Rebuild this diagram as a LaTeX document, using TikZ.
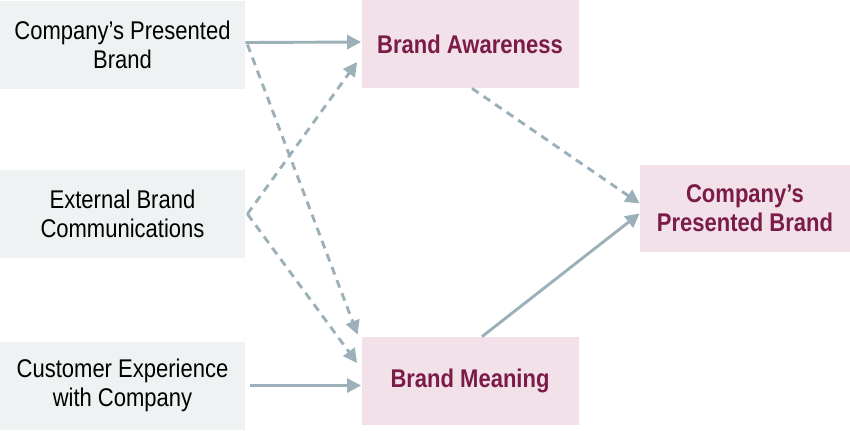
\documentclass[tikz,border=0pt]{standalone}
\usepackage{fontspec}
\setmainfont{Liberation Sans}[FakeStretch=0.86]
\usetikzlibrary{arrows.meta}
\definecolor{srcgray}{HTML}{EEF2F3}
\definecolor{tgtpink}{HTML}{F2E1E8}
\definecolor{maroon}{HTML}{7B1B48}
\definecolor{arrowgray}{HTML}{9BB0B8}
\begin{document}
\begin{tikzpicture}[
src/.style={fill=srcgray,minimum width=122.5pt,minimum height=44pt,inner sep=0pt,align=center,font=\fontsize{12.8}{14.5}\selectfont},
tgt/.style={fill=tgtpink,minimum width=108.5pt,minimum height=44pt,inner sep=0pt,align=center,text=maroon,font=\fontsize{12.8}{14.5}\selectfont\bfseries},
link/.style={draw=arrowgray,line width=1.45pt,-{Triangle[length=7pt,width=7pt]}},
dlink/.style={link,dash pattern=on 4pt off 3pt}]
\useasboundingbox (0,0) rectangle (425pt,-215pt);

\node[src] (brand) at (61.25pt,-22.25pt) {Company’s Presented\\Brand};
\node[src] (ext) [below of=brand,node distance=84.75pt] {External Brand\\Communications};
\node[src] (cust) [below of=ext,node distance=85.75pt] {Customer Experience\\with Company};

\node[tgt] (aware) [right of=brand,node distance=173.75pt,yshift=0.25pt] {Brand Awareness};
\node[tgt] (meaning) [below of=aware,node distance=168.5pt] {Brand Meaning};
\node[tgt,minimum width=105pt,minimum height=43.5pt] (out) [right of=ext,node distance=311.25pt,yshift=2.75pt] {Company’s\\Presented Brand};

\draw[link] ([yshift=1pt]brand.east) -- ([yshift=1pt]aware.west);
\draw[dlink] ([xshift=1pt]brand.east) -- ([xshift=-1.75pt,yshift=1pt]meaning.north west);
\draw[dlink] ([xshift=1pt]ext.east) -- ([xshift=-2pt,yshift=-9pt]aware.west);
\draw[dlink] ([xshift=1pt]ext.east) -- ([xshift=-2pt,yshift=9pt]meaning.west);
\draw[link] ([xshift=2.5pt]cust.east) -- (cust.east -| meaning.west);

\draw[dlink] ([xshift=1pt]aware.south) -- ([yshift=2.5pt]out.west);
\draw[link] ([xshift=6pt]meaning.north) -- ([yshift=-2.5pt]out.west);
\end{tikzpicture}
\end{document}
